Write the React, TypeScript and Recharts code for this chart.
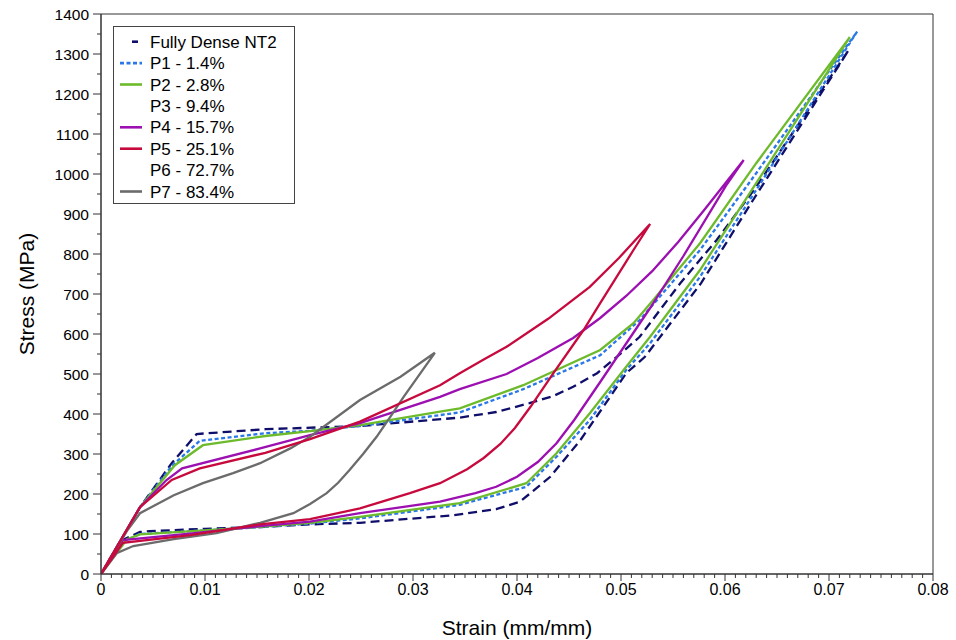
import React from 'react';
import { LineChart, Line, XAxis, YAxis, ReferenceArea, Legend } from 'recharts';

// ---- Data (strain mm/mm, stress MPa): loading path then unloading path ----
const nt2Strain = [0, 0.00375, 0.0068, 0.0092, 0.0158, 0.0249, 0.0345, 0.038, 0.0412, 0.0435, 0.0454, 0.0477, 0.0496, 0.0518, 0.0557, 0.0592, 0.063, 0.0719,
  0.0627, 0.0577, 0.0523, 0.0505, 0.0483, 0.0461, 0.0432, 0.0403, 0.038, 0.0339, 0.0249, 0.0201, 0.0158, 0.01, 0.0047, 0.00375, 0.0021, 0];
const nt2Stress = [0, 167, 277, 350, 362, 370, 391, 405, 427, 445, 468, 502, 543, 593, 727, 835, 968, 1310,
  935, 727, 543, 502, 418, 335, 243, 181, 162, 147, 128, 124, 118, 113, 107, 105, 85, 0];

const p1Strain = [0, 0.00375, 0.0068, 0.0095, 0.0158, 0.0201, 0.0249, 0.0345, 0.0406, 0.048, 0.0518, 0.0576, 0.063, 0.0727,
  0.063, 0.0576, 0.0528, 0.0505, 0.047, 0.0438, 0.0409, 0.0345, 0.0326, 0.0249, 0.0201, 0.0153, 0.0037, 0.0021, 0];
const p1Stress = [0, 167, 270, 333, 352, 358, 370, 404, 462, 547, 635, 810, 1002, 1356,
  960, 743, 577, 510, 385, 293, 218, 173, 166, 139, 126, 117, 100, 80, 0];

const p2Strain = [0, 0.00375, 0.0071, 0.0098, 0.0158, 0.0201, 0.0249, 0.0326, 0.0345, 0.0406, 0.048, 0.0512, 0.0531, 0.0576, 0.063, 0.072,
  0.063, 0.0576, 0.0528, 0.0505, 0.047, 0.0438, 0.0409, 0.0345, 0.0249, 0.0201, 0.0153, 0.00375, 0.0025, 0];
const p2Stress = [0, 167, 272, 322, 345, 357, 372, 406, 414, 472, 560, 627, 685, 827, 1027, 1342,
  977, 760, 593, 518, 402, 302, 227, 177, 143, 128, 118, 99, 87, 0];

const p4Strain = [0, 0.00375, 0.0063, 0.0078, 0.0153, 0.0201, 0.0249, 0.0326, 0.0345, 0.039, 0.042, 0.0454, 0.048, 0.0505, 0.053, 0.0555, 0.058, 0.0618,
  0.0602, 0.056, 0.0528, 0.048, 0.0455, 0.0438, 0.042, 0.04, 0.038, 0.036, 0.0345, 0.0326, 0.0249, 0.0201, 0.0158, 0.009, 0.0021, 0];
const p4Stress = [0, 167, 235, 264, 314, 347, 377, 443, 462, 500, 540, 590, 640, 695, 757, 830, 910, 1035,
  975, 795, 665, 480, 385, 327, 280, 243, 218, 202, 193, 181, 152, 131, 121, 102, 85, 0];

const p5Strain = [0, 0.00375, 0.0068, 0.0095, 0.0158, 0.0201, 0.0249, 0.0326, 0.0345, 0.0368, 0.039, 0.043, 0.047, 0.0498, 0.0528,
  0.0512, 0.048, 0.0464, 0.0435, 0.0413, 0.0398, 0.0384, 0.0368, 0.0352, 0.0326, 0.0297, 0.0249, 0.0201, 0.0153, 0.0086, 0.0021, 0];
const p5Stress = [0, 167, 235, 264, 303, 337, 381, 472, 502, 536, 568, 638, 718, 790, 875,
  810, 677, 610, 502, 418, 365, 325, 290, 262, 227, 202, 164, 137, 124, 97, 78, 0];

const p7Strain = [0, 0.0025, 0.00375, 0.007, 0.0098, 0.0127, 0.0153, 0.0182, 0.0201, 0.0249, 0.0288, 0.0321,
  0.0291, 0.0278, 0.0265, 0.0252, 0.0239, 0.0228, 0.0217, 0.0201, 0.0185, 0.0153, 0.0111, 0.007, 0.0031, 0.0015, 0];
const p7Stress = [0, 108, 152, 197, 227, 252, 277, 314, 343, 435, 493, 553,
  443, 392, 343, 300, 260, 228, 202, 175, 152, 128, 102, 87, 70, 52, 0];

const legendNames = ['Fully Dense NT2', 'P1 - 1.4%', 'P2 - 2.8%', 'P3 - 9.4%', 'P4 - 15.7%', 'P5 - 25.1%', 'P6 - 72.7%', 'P7 - 83.4%'];

const xTickLabels = ['0', '0.01', '0.02', '0.03', '0.04', '0.05', '0.06', '0.07', '0.08'];
const yTickLabels = ['0', '100', '200', '300', '400', '500', '600', '700', '800', '900', '1000', '1100', '1200', '1300', '1400'];

const zip = (xs: number[], ys: number[]) => xs.map((x, i) => ({ x, y: ys[i] }));

// minor + major tick positions (axis only)
const xAllTicks: number[] = [];
for (let k = 0; k <= 80; k++) xAllTicks.push(k / 1000);
const yAllTicks: number[] = [];
for (let k = 0; k <= 28; k++) yAllTicks.push(k * 50);

const FONT = '"Liberation Sans", Arial, Helvetica, sans-serif';

const COLORS = {
  nt2: '#0f0f6b',
  p1: '#2a78e8',
  p2: '#6dbb2c',
  p4: '#9c0fb0',
  p5: '#c70a3e',
  p7: '#6b6b6b',
};

const seriesStyles = [
  { color: COLORS.nt2, dash: '9 5' },
  { color: COLORS.p1, dash: '4 2.5' },
  { color: COLORS.p2, dash: undefined },
  { color: 'none', dash: undefined },
  { color: COLORS.p4, dash: undefined },
  { color: COLORS.p5, dash: undefined },
  { color: 'none', dash: undefined },
  { color: COLORS.p7, dash: undefined },
];

const XTick = (props: any) => {
  const { x, y, payload } = props;
  const k = Math.round(payload.value * 1000);
  const major = k % 10 === 0;
  return (
    <g>
      <line x1={x} x2={x} y1={y} y2={y + (major ? 7 : 4)} stroke="#333" strokeWidth={1} />
      {major && (
        <text x={x} y={y + 10} dy="0.71em" textAnchor="middle" fontSize={16} fill="#000" fontFamily={FONT}>
          {xTickLabels[k / 10]}
        </text>
      )}
    </g>
  );
};

const YTick = (props: any) => {
  const { x, y, payload } = props;
  const v = Math.round(payload.value);
  const major = v % 100 === 0;
  return (
    <g>
      <line x1={x} x2={x - (major ? 8 : 4)} y1={y} y2={y} stroke="#333" strokeWidth={1} />
      {major && (
        <text x={x - 12} y={y} dy="0.355em" textAnchor="end" fontSize={15.5} fill="#000" fontFamily={FONT}>
          {yTickLabels[v / 100]}
        </text>
      )}
    </g>
  );
};

const LegendBox = () => {
  const rowH = 21.4;
  const w = 181;
  const h = 177;
  return (
    <svg width={w + 1} height={h + 1} style={{ display: 'block' }}>
      <rect x={0.5} y={0.5} width={w} height={h} fill="#fff" stroke="#444" strokeWidth={1} />
      {legendNames.map((name, i) => {
        const cy = 15.7 + i * rowH;
        const st = seriesStyles[i];
        return (
          <g key={name}>
            {i === 0 ? (
              <line x1={19} x2={25} y1={cy} y2={cy} stroke={st.color} strokeWidth={2.6} />
            ) : st.color !== 'none' ? (
              <line x1={7} x2={29} y1={cy} y2={cy} stroke={st.color} strokeWidth={2.6} strokeDasharray={st.dash} />
            ) : null}
            <text x={37} y={cy} dy="0.355em" fontSize={17} fill="#000" fontFamily={FONT}>
              {name}
            </text>
          </g>
        );
      })}
    </svg>
  );
};

export default function App() {
  const lines = [
    { key: 'nt2', data: zip(nt2Strain, nt2Stress), style: seriesStyles[0], name: legendNames[0] },
    { key: 'p1', data: zip(p1Strain, p1Stress), style: seriesStyles[1], name: legendNames[1] },
    { key: 'p2', data: zip(p2Strain, p2Stress), style: seriesStyles[2], name: legendNames[2] },
    { key: 'p4', data: zip(p4Strain, p4Stress), style: seriesStyles[4], name: legendNames[4] },
    { key: 'p7', data: zip(p7Strain, p7Stress), style: seriesStyles[7], name: legendNames[7] },
    { key: 'p5', data: zip(p5Strain, p5Stress), style: seriesStyles[5], name: legendNames[5] },
  ];
  return (
    <div style={{ position: 'absolute', left: 0, top: 0, width: 956, height: 640, background: '#fff' }}>
      <LineChart width={956} height={640} margin={{ top: 14, right: 23, bottom: 26, left: 41 }}>
        <XAxis
          dataKey="x"
          type="number"
          domain={[0, 0.08]}
          ticks={xAllTicks}
          interval={0}
          tick={<XTick />}
          tickLine={false}
          tickSize={0}
          tickMargin={0}
          height={40}
          allowDataOverflow
          axisLine={{ stroke: '#333', strokeWidth: 1 }}
          label={{
            content: (p: any) => {
              const vb = p.viewBox || { x: 101, width: 832, y: 574 };
              return (
                <text x={vb.x + vb.width / 2} y={628} dy="0.355em" textAnchor="middle" fontSize={21} fill="#000" fontFamily={FONT}>
                  Strain (mm/mm)
                </text>
              );
            },
          }}
        />
        <YAxis
          dataKey="y"
          type="number"
          domain={[0, 1400]}
          ticks={yAllTicks}
          interval={0}
          tick={<YTick />}
          tickLine={false}
          tickSize={0}
          tickMargin={0}
          width={60}
          allowDataOverflow
          axisLine={{ stroke: '#333', strokeWidth: 1 }}
          label={{
            content: (p: any) => {
              const vb = p.viewBox || { y: 14, height: 560 };
              const cy = vb.y + vb.height / 2;
              return (
                <text transform={`translate(27, ${cy}) rotate(-90)`} x={0} y={0} dy="0.355em" textAnchor="middle" fontSize={21} fill="#000" fontFamily={FONT}>
                  Stress (MPa)
                </text>
              );
            },
          }}
        />
        <ReferenceArea x1={0} x2={0.08} y1={0} y2={1400} fill="none" stroke="#333" strokeWidth={1} ifOverflow="visible" />
        {lines.map((l) => (
          <Line
            key={l.key}
            data={l.data}
            dataKey="y"
            name={l.name}
            type="linear"
            stroke={l.style.color}
            strokeWidth={2.3}
            strokeDasharray={l.style.dash}
            dot={false}
            activeDot={false}
            isAnimationActive={false}
          />
        ))}
        <Legend
          layout="horizontal"
          verticalAlign="middle"
          align="center"
          wrapperStyle={{ left: 113, top: 26, width: 'auto', height: 'auto' }}
          content={() => <LegendBox />}
        />
      </LineChart>
    </div>
  );
}
